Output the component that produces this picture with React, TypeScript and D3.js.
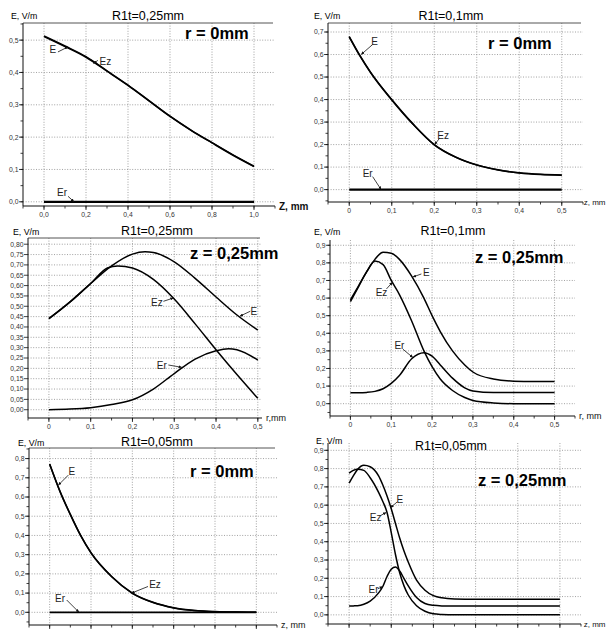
import React from "react";
import * as d3 from "d3";

// R1t = 0,25 mm, along z at r = 0
const zA = [0, 0.1, 0.2, 0.3, 0.4, 0.5, 0.6, 0.7, 0.8, 0.9, 1.0];
const eA = [0.513, 0.482, 0.449, 0.405, 0.361, 0.313, 0.265, 0.222, 0.183, 0.145, 0.11];
const ezA = [0.511, 0.48, 0.447, 0.404, 0.36, 0.312, 0.264, 0.221, 0.182, 0.144, 0.109];
const erA = [0, 0, 0, 0, 0, 0, 0, 0, 0, 0, 0];

// R1t = 0,1 mm, along z at r = 0
const zB = [0, 0.025, 0.05, 0.1, 0.15, 0.2, 0.25, 0.3, 0.35, 0.4, 0.45, 0.5];
const eB = [0.68, 0.596, 0.522, 0.4, 0.292, 0.2, 0.145, 0.11, 0.088, 0.075, 0.068, 0.065];
const ezB = [0.678, 0.594, 0.52, 0.398, 0.29, 0.199, 0.144, 0.109, 0.087, 0.074, 0.067, 0.064];
const erB = [0, 0, 0, 0, 0, 0, 0, 0, 0, 0, 0, 0];

// R1t = 0,25 mm, across r at z = 0,25 mm
const rC_E = [0, 0.05, 0.1, 0.15, 0.2, 0.23, 0.25, 0.3, 0.35, 0.4, 0.45, 0.5];
const eC = [0.44, 0.52, 0.61, 0.695, 0.752, 0.763, 0.76, 0.715, 0.635, 0.545, 0.458, 0.385];
const rC_Ez = [0, 0.05, 0.1, 0.14, 0.165, 0.2, 0.25, 0.3, 0.35, 0.4, 0.45, 0.5];
const ezC = [0.44, 0.52, 0.61, 0.685, 0.695, 0.685, 0.63, 0.535, 0.415, 0.29, 0.17, 0.055];
const rC_Er = [0, 0.05, 0.1, 0.15, 0.2, 0.25, 0.3, 0.35, 0.4, 0.43, 0.45, 0.5];
const erC = [0, 0.003, 0.01, 0.025, 0.048, 0.1, 0.175, 0.245, 0.285, 0.295, 0.29, 0.24];

// R1t = 0,1 mm, across r at z = 0,25 mm
const rD = [0, 0.02, 0.04, 0.06, 0.08, 0.1, 0.12, 0.15, 0.18, 0.2, 0.22, 0.25, 0.28, 0.3, 0.35, 0.4, 0.45, 0.5];
const eD = [0.59, 0.67, 0.75, 0.82, 0.86, 0.855, 0.82, 0.725, 0.6, 0.5, 0.41, 0.3, 0.22, 0.18, 0.14, 0.128, 0.126, 0.126];
const ezD = [0.58, 0.665, 0.75, 0.81, 0.79, 0.7, 0.62, 0.47, 0.3, 0.21, 0.14, 0.075, 0.035, 0.018, 0.004, 0, 0, 0];
const erD = [0.062, 0.062, 0.064, 0.07, 0.085, 0.115, 0.16, 0.255, 0.29, 0.27, 0.22, 0.145, 0.09, 0.072, 0.063, 0.063, 0.063, 0.063];

// R1t = 0,05 mm, along z at r = 0
const zE = [0, 0.025, 0.05, 0.075, 0.1, 0.15, 0.2, 0.25, 0.3, 0.35, 0.4, 0.45, 0.5];
const eE = [0.772, 0.63, 0.51, 0.4, 0.31, 0.186, 0.1, 0.052, 0.024, 0.01, 0.004, 0.001, 0];
const ezE = [0.77, 0.628, 0.508, 0.399, 0.309, 0.185, 0.099, 0.051, 0.023, 0.009, 0.003, 0.001, 0];
const erE = [0, 0, 0, 0, 0, 0, 0, 0, 0, 0, 0, 0, 0];

// R1t = 0,05 mm, across r at z = 0,25 mm
const rF = [0, 0.01, 0.02, 0.035, 0.05, 0.07, 0.08, 0.09, 0.1, 0.11, 0.12, 0.13, 0.14, 0.16, 0.18, 0.2, 0.22, 0.25, 0.3, 0.5];
const eF = [0.72, 0.76, 0.795, 0.818, 0.81, 0.76, 0.71, 0.65, 0.58, 0.5, 0.42, 0.35, 0.29, 0.19, 0.135, 0.105, 0.093, 0.087, 0.085, 0.085];
const ezF = [0.775, 0.79, 0.797, 0.79, 0.75, 0.67, 0.62, 0.56, 0.45, 0.33, 0.23, 0.16, 0.11, 0.05, 0.02, 0.006, 0.002, 0, 0, 0];
const erF = [0.048, 0.049, 0.05, 0.058, 0.075, 0.12, 0.155, 0.21, 0.25, 0.262, 0.24, 0.2, 0.16, 0.095, 0.062, 0.052, 0.049, 0.048, 0.048, 0.048];

type Series = { x: number[]; y: number[]; w?: number };
type Note = { text: string; x: number; y: number; tx: number; ty: number; ax: number; ay: number };

const FONT = "'Liberation Sans', Arial, sans-serif";
const PAGE_W = 606;

const panels = [
  {
    left: 23, right: 275, top: 23, bottom: 206, frame: true,
    xDom: [-0.1, 1.1], yDom: [-0.013, 0.553],
    xMajor: 0.2, xMinor: 0.1, xMax: 1.0, xZero: "0,0", yMajor: 0.1, yMinor: 0.05, yMax: 0.5, yDigits: 1,
    xLabels: true, title: "R1t=0,25mm", titleX: 148, titleY: 20, yNameX: 11, yNameY: 19,
    xName: "Z, mm", xNameBold: true, tag: "r = 0mm", tagX: 185, tagY: 39,
    series: [{ x: zA, y: eA }, { x: zA, y: ezA }, { x: zA, y: erA, w: 2.2 }] as Series[],
    notes: [
      { text: "E", x: 0.114, y: 0.479, tx: -15, ty: 3, ax: -10, ay: 5 },
      { text: "Ez", x: 0.235, y: 0.428, tx: 12, ty: -2, ax: 4.5, ay: -3 },
      { text: "Er", x: 0.143, y: 0, tx: -12, ty: -9, ax: -6, ay: -5.5 },
    ] as Note[],
  },
  {
    left: 328, right: 583, top: 23, bottom: 202, frame: true,
    xDom: [-0.05, 0.55], yDom: [-0.055, 0.74],
    xMajor: 0.1, xMinor: 0.05, xMax: 0.5, xZero: "0", yMajor: 0.1, yMinor: 0.05, yMax: 0.7, yDigits: 1,
    xLabels: true, title: "R1t=0,1mm", titleX: 451, titleY: 20, yNameX: 314, yNameY: 18.5,
    xName: "z, mm", xNameBold: false, tag: "r = 0mm", tagX: 488, tagY: 49,
    series: [{ x: zB, y: eB }, { x: zB, y: ezB }, { x: zB, y: erB, w: 2.2 }] as Series[],
    notes: [
      { text: "E", x: 0.028, y: 0.6, tx: 13.5, ty: -13.5, ax: 11.5, ay: -10 },
      { text: "Ez", x: 0.201, y: 0.2, tx: 8.5, ty: -9, ax: 5, ay: -6.5 },
      { text: "Er", x: 0.075, y: 0, tx: -13.5, ty: -16.5, ax: -8.5, ay: -13 },
    ] as Note[],
  },
  {
    left: 28, right: 262, top: 238, bottom: 418, frame: true,
    xDom: [-0.05, 0.51], yDom: [-0.04, 0.83],
    xMajor: 0.1, xMinor: 0.05, xMax: 0.5, xZero: "0", yMajor: 0.05, yMinor: 0, yMax: 0.8, yDigits: 2,
    xLabels: true, title: "R1t=0,25mm", titleX: 157, titleY: 234.5, yNameX: 13, yNameY: 234.5,
    xName: "r,mm", xNameBold: false, tag: "z = 0,25mm", tagX: 190, tagY: 259,
    series: [{ x: rC_E, y: eC }, { x: rC_Ez, y: ezC }, { x: rC_Er, y: erC }] as Series[],
    notes: [
      { text: "Ez", x: 0.298, y: 0.54, tx: -16.5, ty: 4.5, ax: -10, ay: 3.3 },
      { text: "E", x: 0.457, y: 0.452, tx: 14, ty: -5, ax: 10.5, ay: -5 },
      { text: "Er", x: 0.318, y: 0.205, tx: -20, ty: -2.3, ax: -13.4, ay: -2.3 },
    ] as Note[],
  },
  {
    left: 330, right: 575, top: 240, bottom: 416, frame: false,
    xDom: [-0.05, 0.55], yDom: [-0.07, 0.93],
    xMajor: 0.1, xMinor: 0.05, xMax: 0.5, xZero: "0", yMajor: 0.1, yMinor: 0.05, yMax: 0.9, yDigits: 1,
    xLabels: true, title: "R1t=0,1mm", titleX: 453, titleY: 234.5, yNameX: 314, yNameY: 234.5,
    xName: "r, mm", xNameBold: false, tag: "z = 0,25mm", tagX: 475, tagY: 262.5,
    series: [{ x: rD, y: eD }, { x: rD, y: ezD }, { x: rD, y: erD }] as Series[],
    notes: [
      { text: "E", x: 0.153, y: 0.72, tx: 13.5, ty: -4, ax: 8.5, ay: -3 },
      { text: "Ez", x: 0.103, y: 0.69, tx: -11, ty: 10, ax: -6, ay: 6.7 },
      { text: "Er", x: 0.153, y: 0.262, tx: -13.5, ty: -11.7, ax: -10, ay: -8.4 },
    ] as Note[],
  },
  {
    left: 29, right: 277, top: 448, bottom: 625, frame: true,
    xDom: [-0.05, 0.55], yDom: [-0.066, 0.855],
    xMajor: 0.1, xMinor: 0.05, xMax: 0.5, xZero: "0", yMajor: 0.1, yMinor: 0.05, yMax: 0.8, yDigits: 1,
    xLabels: false, title: "R1t=0,05mm", titleX: 157, titleY: 445.5, yNameX: 18, yNameY: 445.5,
    xName: "z, mm", xNameBold: false, tag: "r = 0mm", tagX: 190, tagY: 477,
    series: [{ x: zE, y: eE }, { x: zE, y: ezE }, { x: zE, y: erE, w: 1.8 }] as Series[],
    notes: [
      { text: "E", x: 0.021, y: 0.662, tx: 13.5, ty: -13.3, ax: 10, ay: -10 },
      { text: "Ez", x: 0.198, y: 0.1, tx: 23.5, ty: -8.3, ax: 16.5, ay: -6.6 },
      { text: "Er", x: 0.071, y: 0, tx: -19, ty: -14, ax: -12.3, ay: -12.3 },
    ] as Note[],
  },
  {
    left: 328, right: 581, top: 443, bottom: 624, frame: false,
    xDom: [-0.05, 0.55], yDom: [-0.05, 0.94],
    xMajor: 0.1, xMinor: 0.05, xMax: 0.5, xZero: "0", yMajor: 0.1, yMinor: 0.05, yMax: 0.9, yDigits: 1,
    xLabels: false, title: "R1t=0,05mm", titleX: 451, titleY: 449.5, yNameX: 316, yNameY: 443.5,
    xName: "z, mm", xNameBold: false, tag: "z = 0,25mm", tagX: 478, tagY: 486,
    series: [{ x: rF, y: eF }, { x: rF, y: ezF }, { x: rF, y: erF }] as Series[],
    notes: [
      { text: "E", x: 0.098, y: 0.586, tx: 9.5, ty: -8.7, ax: 7, ay: -6 },
      { text: "Ez", x: 0.088, y: 0.56, tx: -10.6, ty: 4.7, ax: -6, ay: 3.3 },
      { text: "Er", x: 0.08, y: 0.155, tx: -9.3, ty: 3.3, ax: -5, ay: 2.3 },
    ] as Note[],
  },
];

const rnd = (v: number) => Math.round(v * 10000) / 10000;
const steps = (from: number, to: number, step: number) => {
  const out: number[] = [];
  for (let i = Math.ceil(from / step - 1e-6); i * step <= to + 1e-9; i++) out.push(rnd(i * step));
  return out;
};

function Panel({ p }: { p: (typeof panels)[number] }) {
  const x = d3.scaleLinear().domain(p.xDom).range([p.left, p.right]);
  const y = d3.scaleLinear().domain(p.yDom).range([p.bottom, p.top]);
  const xMaj = steps(0, p.xMax, p.xMajor);
  const xMin = steps(p.xDom[0], p.xDom[1], p.xMinor);
  const yMaj = steps(0, p.yMax, p.yMajor);
  const yMin = p.yMinor ? steps(p.yDom[0], p.yDom[1], p.yMinor) : [];
  const xFmt = (v: number) => (v === 0 ? p.xZero : v.toFixed(1).replace(".", ","));
  const yFmt = (v: number) => v.toFixed(p.yDigits).replace(".", ",");
  const grid = "#8a8a8a";
  // axis name sits after the axis end; near the page edge it is pulled in to stay whole
  const nearEdge = p.right + 28 > PAGE_W;

  return (
    <g fontFamily={FONT}>
      {/* grid */}
      {xMaj.map((v) => (
        <line key={"gx" + v} x1={x(v)} x2={x(v)} y1={p.top} y2={p.bottom} stroke={grid} strokeWidth={0.8} strokeDasharray="1,1.6" />
      ))}
      {yMaj.map((v) => (
        <line key={"gy" + v} x1={p.left} x2={p.right} y1={y(v)} y2={y(v)} stroke={grid} strokeWidth={0.8} strokeDasharray="1,1.6" />
      ))}
      {p.frame && <line x1={p.left} x2={p.right - 2} y1={p.top} y2={p.top} stroke="#555" strokeWidth={1} />}
      {/* axes */}
      <line x1={p.left} x2={p.left} y1={p.top} y2={p.bottom} stroke="#111" strokeWidth={1} />
      <line x1={p.left} x2={p.right} y1={p.bottom} y2={p.bottom} stroke="#111" strokeWidth={1} />
      {yMin.map((v) => (
        <line key={"ym" + v} x1={p.left - 2.5} x2={p.left} y1={y(v)} y2={y(v)} stroke="#111" strokeWidth={0.8} />
      ))}
      {yMaj.map((v) => (
        <g key={"yt" + v}>
          <line x1={p.left - 4} x2={p.left} y1={y(v)} y2={y(v)} stroke="#111" strokeWidth={0.8} />
          <text x={p.left - 4.5} y={y(v)} dy="0.35em" textAnchor="end" fontSize={6.8} fill="#333">
            {yFmt(v)}
          </text>
        </g>
      ))}
      {xMin.map((v) => (
        <line key={"xm" + v} x1={x(v)} x2={x(v)} y1={p.bottom} y2={p.bottom + 2.5} stroke="#111" strokeWidth={0.8} />
      ))}
      {xMaj.map((v) => (
        <g key={"xt" + v}>
          <line x1={x(v)} x2={x(v)} y1={p.bottom} y2={p.bottom + 4} stroke="#111" strokeWidth={0.8} />
          {p.xLabels && (
            <text x={x(v)} y={p.bottom + 11} textAnchor="middle" fontSize={6.8} fill="#333">
              {xFmt(v)}
            </text>
          )}
        </g>
      ))}
      {/* curves */}
      {p.series.map((s, i) => {
        const line = d3
          .line<number>()
          .x((_, j) => x(s.x[j]))
          .y((d) => y(d))
          .curve(d3.curveMonotoneX);
        return <path key={"s" + i} d={line(s.y) || ""} fill="none" stroke="#000" strokeWidth={s.w || 1.5} />;
      })}
      {/* annotations */}
      {p.notes.map((n, i) => {
        const px = x(n.x);
        const py = y(n.y);
        return (
          <g key={"n" + i}>
            <line x1={px + n.ax} y1={py + n.ay} x2={px} y2={py} stroke="#111" strokeWidth={0.8} markerEnd="url(#ah)" />
            <text x={px + n.tx} y={py + n.ty} dy="0.35em" textAnchor="middle" fontSize={10} fill="#222">
              {n.text}
            </text>
          </g>
        );
      })}
      {/* labels */}
      <text x={p.titleX} y={p.titleY} textAnchor="middle" fontSize={12.5} fill="#000">
        {p.title}
      </text>
      <text x={p.yNameX} y={p.yNameY} fontSize={8.8} fill="#000">
        E, V/m
      </text>
      <text
        x={nearEdge ? PAGE_W - 0.5 : p.right + 4}
        y={p.bottom}
        dy="0.35em"
        textAnchor={nearEdge ? "end" : "start"}
        fontSize={p.xNameBold ? 10 : nearEdge ? 8 : 9}
        fontWeight={p.xNameBold ? "bold" : "normal"}
        fill="#111"
      >
        {p.xName}
      </text>
      <text x={p.tagX} y={p.tagY} fontSize={16.5} fontWeight="bold" fill="#000">
        {p.tag}
      </text>
    </g>
  );
}

export default function App() {
  return (
    <svg width={PAGE_W} height={634} style={{ position: "absolute", left: 0, top: 0, background: "#fff" }}>
      <defs>
        <marker id="ah" viewBox="0 0 6 6" refX={6} refY={3} markerWidth={4} markerHeight={4} orient="auto">
          <path d="M0,0L6,3L0,6z" fill="#111" />
        </marker>
      </defs>
      <rect width={PAGE_W} height={634} fill="#fff" />
      {panels.map((p, i) => (
        <Panel key={i} p={p} />
      ))}
    </svg>
  );
}
